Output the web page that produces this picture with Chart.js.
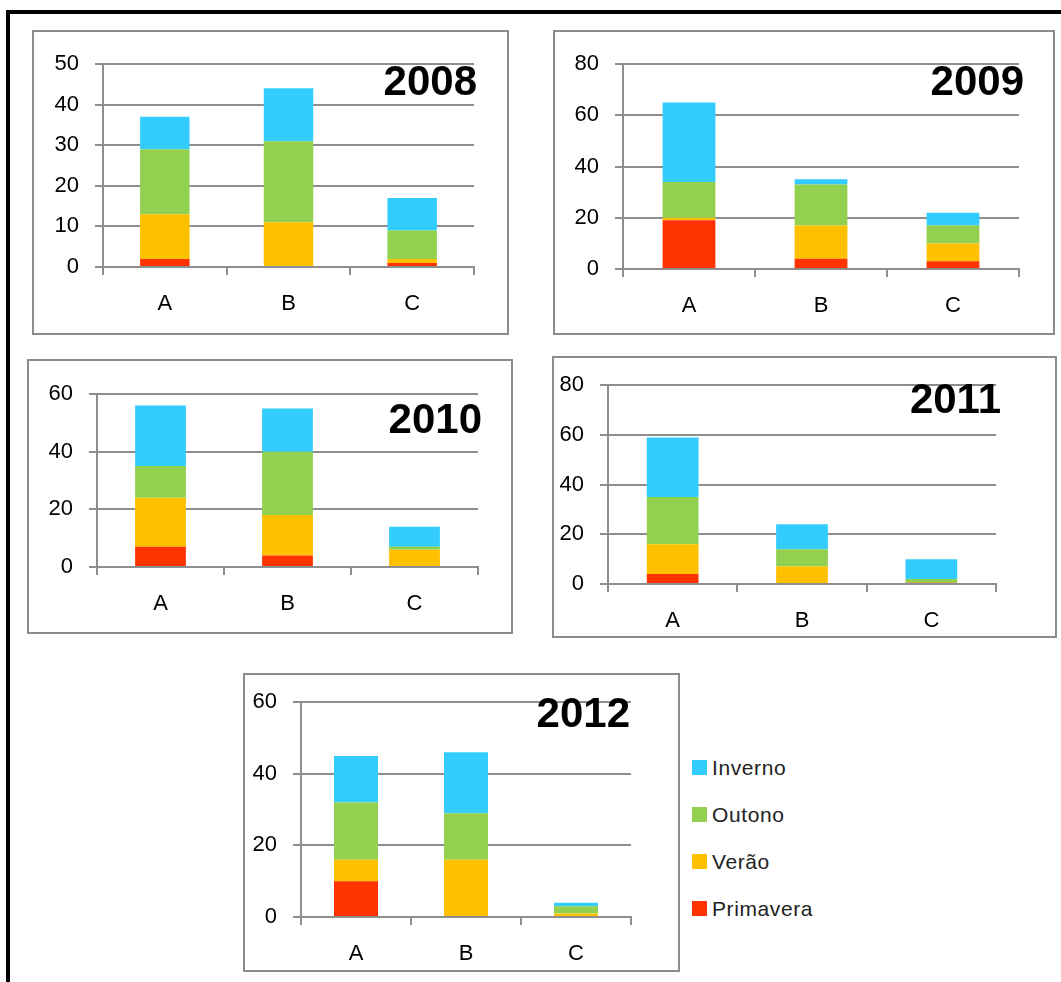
<!DOCTYPE html>
<html>
<head>
<meta charset="utf-8">
<script src="https://cdn.jsdelivr.net/npm/chart.js@4"></script>
<style>
  body { margin: 0; background: #fff; width: 1061px; height: 982px; position: relative; overflow: hidden; font-family: "Liberation Sans", Arial, sans-serif; }
  .frame { position: absolute; left: 6px; top: 10px; width: 1100px; height: 1000px; border-top: 4px solid #000; border-left: 4px solid #000; }
  .box { position: absolute; background: #fff; }
  .box .edge { position: absolute; left: 0; top: 0; right: 0; bottom: 0; border: 2px solid #8c8c8c; pointer-events: none; }
  .legend { position: absolute; left: 692px; top: 756px; }
  .legend div { position: relative; height: 47px; font-size: 21px; letter-spacing: 0.6px; color: #222; line-height: 24px; padding-left: 20px; }
  .legend span { position: absolute; left: 0; top: 4px; width: 15px; height: 15px; }
</style>
</head>
<body>
<div class="frame"></div>
<div id="charts"></div>
<div class="legend" id="legend"></div>
<script>
// dados
const categories = ['A', 'B', 'C'];
const years = ['2008', '2009', '2010', '2011', '2012'];
const seasons = ['Primavera', 'Verão', 'Outono', 'Inverno'];
const colors = ['#FF3300', '#FFC000', '#92D050', '#33CCFF'];

// one entry per year, values for A, B, C
const primavera = [[2, 0, 1], [19, 4, 3], [7, 4, 0], [4, 0, 0.5], [10, 0, 0]];
const verao     = [[11, 11, 1], [1, 13, 7], [17, 14, 6], [12, 7, 0], [6, 16, 1]];
const outono    = [[16, 20, 7], [14, 16, 7], [11, 22, 1], [19, 7, 1.5], [16, 13, 2]];
const inverno   = [[8, 13, 8], [31, 2, 5], [21, 15, 7], [24, 10, 8], [13, 17, 1]];

const yMax  = [50, 80, 60, 80, 60];
const yStep = [10, 20, 20, 20, 20];

// box: left, top, right, bottom ; plot: left, top, right, bottom ; title right, baseline
const boxes = [
  { b: [32, 30, 509, 335],  p: [103, 64, 474, 267],  t: [477, 95] },
  { b: [553, 30, 1055, 335], p: [623, 64, 1019, 269], t: [1024, 95] },
  { b: [27, 359, 513, 634], p: [97, 394, 478, 567],  t: [482, 433] },
  { b: [552, 356, 1057, 638], p: [608, 372, 996, 584], t: [1001, 413] },
  { b: [243, 673, 680, 972], p: [301, 693, 631, 917], t: [630, 727] }
];

Chart.defaults.font.family = '"Liberation Sans", Arial, sans-serif';
const gridColor = '#8e8e8e';
const Y_W = 55, X_H = 55;

const yearTitle = {
  id: 'yearTitle',
  afterDraw(chart, args, opts) {
    const ctx = chart.ctx;
    ctx.save();
    ctx.font = 'bold 42px "Liberation Sans", Arial, sans-serif';
    ctx.fillStyle = '#000';
    ctx.textAlign = 'right';
    ctx.textBaseline = 'alphabetic';
    ctx.fillText(opts.text, opts.x, opts.y);
    ctx.restore();
  }
};

const seriesValues = [primavera, verao, outono, inverno];
const holder = document.getElementById('charts');

years.forEach((year, i) => {
  const g = boxes[i];
  const [L, T, R, B] = g.b;
  const w = R - L, h = B - T;
  const box = document.createElement('div');
  box.className = 'box';
  box.style.left = L + 'px';
  box.style.top = T + 'px';
  box.style.width = w + 'px';
  box.style.height = h + 'px';
  const canvas = document.createElement('canvas');
  box.appendChild(canvas);
  const edge = document.createElement('div');
  edge.className = 'edge';
  box.appendChild(edge);
  holder.appendChild(box);

  new Chart(canvas, {
    type: 'bar',
    data: {
      labels: categories,
      datasets: seasons.map((s, k) => ({
        label: s,
        data: seriesValues[k][i],
        backgroundColor: colors[k],
        borderWidth: 0,
        categoryPercentage: 0.4,
        barPercentage: 1
      }))
    },
    options: {
      responsive: true,
      maintainAspectRatio: false,
      animation: false,
      layout: {
        padding: {
          left: g.p[0] - L - Y_W,
          top: g.p[1] - T,
          right: R - g.p[2],
          bottom: B - g.p[3] - X_H
        }
      },
      plugins: {
        legend: { display: false },
        tooltip: { enabled: false },
        yearTitle: { text: year, x: g.t[0] - L, y: g.t[1] - T }
      },
      scales: {
        x: {
          stacked: true,
          grid: { drawOnChartArea: false, drawTicks: true, tickLength: 8, color: gridColor, lineWidth: 2, offset: true },
          border: { color: gridColor, width: 2 },
          ticks: { color: '#000', font: { size: 22 }, padding: 16 },
          afterFit(scale) { scale.height = X_H; }
        },
        y: {
          stacked: true,
          min: 0,
          max: yMax[i],
          ticks: { stepSize: yStep[i], color: '#000', font: { size: 22 }, padding: 16 },
          grid: { color: gridColor, lineWidth: 2, tickLength: 8 },
          border: { color: gridColor, width: 2 },
          afterFit(scale) { scale.width = Y_W; }
        }
      }
    },
    plugins: [yearTitle]
  });
});

// legenda (Inverno em cima)
const legend = document.getElementById('legend');
for (let k = seasons.length - 1; k >= 0; k--) {
  const row = document.createElement('div');
  const sw = document.createElement('span');
  sw.style.background = colors[k];
  row.appendChild(sw);
  row.appendChild(document.createTextNode(seasons[k]));
  legend.appendChild(row);
}
</script>
</body>
</html>
